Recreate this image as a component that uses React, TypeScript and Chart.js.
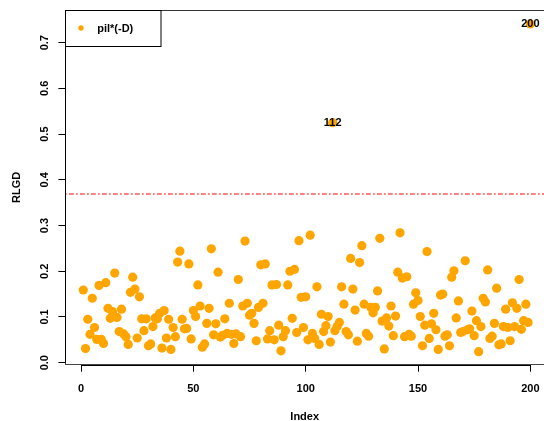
import React, { useEffect, useRef } from "react";
import { Chart, registerables } from "chart.js";

Chart.register(...registerables);

// ---- data ----
const RLGD: number[] = [
  0.159, 0.031, 0.095, 0.062, 0.141, 0.077, 0.051, 0.169, 0.051, 0.042,
  0.175, 0.119, 0.097, 0.112, 0.196, 0.099, 0.068, 0.117, 0.063, 0.057,
  0.040, 0.154, 0.187, 0.161, 0.054, 0.144, 0.096, 0.070, 0.096, 0.037,
  0.041, 0.079, 0.098, 0.096, 0.108, 0.032, 0.114, 0.054, 0.095, 0.029,
  0.077, 0.057, 0.220, 0.244, 0.095, 0.074, 0.075, 0.216, 0.052, 0.114,
  0.101, 0.170, 0.124, 0.034, 0.041, 0.086, 0.119, 0.249, 0.061, 0.085,
  0.198, 0.056, 0.060, 0.096, 0.064, 0.130, 0.062, 0.042, 0.063, 0.182,
  0.057, 0.124, 0.266, 0.130, 0.104, 0.108, 0.086, 0.048, 0.121, 0.214,
  0.130, 0.216, 0.052, 0.070, 0.170, 0.050, 0.171, 0.082, 0.026, 0.057,
  0.070, 0.170, 0.200, 0.097, 0.204, 0.066, 0.267, 0.143, 0.077, 0.144,
  0.050, 0.279, 0.064, 0.053, 0.166, 0.040, 0.106, 0.068, 0.081, 0.101,
  0.045, 0.525, 0.070, 0.079, 0.088, 0.166, 0.128, 0.068, 0.061, 0.228,
  0.161, 0.115, 0.047, 0.219, 0.256, 0.128, 0.064, 0.058, 0.121, 0.109,
  0.121, 0.157, 0.272, 0.091, 0.030, 0.098, 0.080, 0.124, 0.059, 0.102,
  0.198, 0.284, 0.185, 0.057, 0.188, 0.062, 0.058, 0.128, 0.153, 0.136,
  0.101, 0.037, 0.082, 0.243, 0.053, 0.085, 0.108, 0.072, 0.029, 0.148,
  0.150, 0.058, 0.061, 0.037, 0.187, 0.201, 0.098, 0.135, 0.066, 0.068,
  0.223, 0.072, 0.074, 0.113, 0.059, 0.092, 0.024, 0.079, 0.141, 0.133,
  0.203, 0.053, 0.058, 0.086, 0.163, 0.039, 0.041, 0.079, 0.117, 0.077,
  0.048, 0.131, 0.079, 0.119, 0.182, 0.073, 0.092, 0.128, 0.088, 0.741,
];
const INDEX: number[] = RLGD.map((_, i) => i + 1);
const X_TICKS: number[] = [0, 50, 100, 150, 200];
const Y_TICKS: number[] = [0, 0.1, 0.2, 0.3, 0.4, 0.5, 0.6, 0.7];
const THRESHOLD = 0.369;
const LABELLED: number[] = [112, 200];
const SERIES_LABEL = "pil*(-D)";
const X_TITLE = "Index";
const Y_TITLE = "RLGD";
const X_MIN = -6.96;
const X_MAX = 206.08;
const Y_MIN = -0.0044;
const Y_MAX = 0.7715;

const FONT = "'Liberation Sans', Arial, Helvetica, sans-serif";
const ORANGE = "#FFA500";

const framePlugin = {
  id: "frame",
  afterDraw(chart: any) {
    const { ctx, chartArea } = chart;
    const xs = chart.scales.x;
    const ys = chart.scales.y;
    ctx.save();
    ctx.strokeStyle = "#333";
    ctx.lineWidth = 1;
    ctx.beginPath();
    const top = Math.round(chartArea.top) + 0.5;
    ctx.moveTo(chartArea.left, top);
    ctx.lineTo(chartArea.right, top);
    ctx.stroke();
    ctx.strokeStyle = "#000";
    ctx.beginPath();
    const bot = Math.round(chartArea.bottom) + 0.5;
    ctx.moveTo(xs.getPixelForValue(X_TICKS[0]), bot);
    ctx.lineTo(xs.getPixelForValue(X_TICKS[X_TICKS.length - 1]), bot);
    const lft = Math.round(chartArea.left) + 0.5;
    ctx.moveTo(lft, ys.getPixelForValue(Y_TICKS[0]));
    ctx.lineTo(lft, ys.getPixelForValue(Y_TICKS[Y_TICKS.length - 1]));
    ctx.stroke();

    const meta = chart.getDatasetMeta(0);
    ctx.fillStyle = "#000";
    ctx.font = `bold 11px ${FONT}`;
    ctx.textAlign = "center";
    ctx.textBaseline = "middle";
    LABELLED.forEach((idx) => {
      const el = meta.data[idx - 1];
      if (el) ctx.fillText(String(idx), el.x, el.y);
    });

    const lx = chartArea.left;
    const ly = chartArea.top;
    ctx.strokeStyle = "#000";
    ctx.strokeRect(Math.round(lx) + 0.5, Math.round(ly) + 0.5, 95.5, 36);
    ctx.fillStyle = ORANGE;
    ctx.beginPath();
    ctx.arc(lx + 15.6, ly + 18, 2.7, 0, Math.PI * 2);
    ctx.fill();
    ctx.fillStyle = "#000";
    ctx.textAlign = "left";
    ctx.fillText(SERIES_LABEL, lx + 31.8, ly + 18.5);
    ctx.restore();
  },
};

export default function App() {
  const ref = useRef<HTMLCanvasElement>(null);
  useEffect(() => {
    const canvas = ref.current;
    if (!canvas) return;
    Chart.defaults.font.family = FONT;
    const chart = new Chart(canvas, {
      type: "scatter",
      data: {
        datasets: [
          {
            type: "scatter",
            label: SERIES_LABEL,
            data: INDEX.map((x, i) => ({ x, y: RLGD[i] })),
            pointRadius: 4.6,
            pointHoverRadius: 4.6,
            backgroundColor: ORANGE,
            borderColor: ORANGE,
            borderWidth: 0,
          },
          {
            type: "line",
            label: "threshold",
            data: [
              { x: X_MIN, y: THRESHOLD },
              { x: X_MAX, y: THRESHOLD },
            ],
            borderColor: "#FF0000",
            borderWidth: 1,
            borderDash: [1, 3, 4, 3],
            borderCapStyle: "round",
            pointRadius: 0,
            showLine: true,
            fill: false,
          } as any,
        ],
      },
      options: {
        animation: false,
        responsive: false,
        devicePixelRatio: 1,
        events: [],
        layout: { autoPadding: false, padding: { top: 10, right: 0, bottom: 0, left: 0 } },
        plugins: { legend: { display: false }, tooltip: { enabled: false } },
        scales: {
          x: {
            type: "linear",
            min: X_MIN,
            max: X_MAX,
            afterBuildTicks: (s: any) => {
              s.ticks = X_TICKS.map((v) => ({ value: v }));
            },
            afterFit: (s: any) => {
              s.height = 56.3;
              s.paddingLeft = 0;
              s.paddingRight = 0;
            },
            grid: {
              drawOnChartArea: false,
              drawTicks: true,
              tickLength: 7,
              color: "#000",
              lineWidth: 1,
            },
            border: { display: true, color: "#444", width: 1 },
            ticks: {
              color: "#000",
              font: { family: FONT, size: 11, weight: "bold", lineHeight: 3.05 },
              padding: 0,
              minRotation: 0,
              maxRotation: 0,
              autoSkip: false,
              callback: (v: any) => String(v),
            },
            title: {
              display: true,
              text: X_TITLE,
              color: "#000",
              font: { family: FONT, size: 11, weight: "bold", lineHeight: 0.67 },
              padding: 0,
            },
          },
          y: {
            type: "linear",
            min: Y_MIN,
            max: Y_MAX,
            afterBuildTicks: (s: any) => {
              s.ticks = Y_TICKS.map((v) => ({ value: v }));
            },
            afterFit: (s: any) => {
              s.width = 65.4;
              s.paddingTop = 0;
              s.paddingBottom = 0;
            },
            grid: {
              drawOnChartArea: false,
              drawTicks: true,
              tickLength: 7,
              color: "#000",
              lineWidth: 1,
            },
            border: { display: true, color: "#444", width: 1 },
            ticks: {
              color: "#000",
              font: { family: FONT, size: 11, weight: "bold" },
              padding: 6,
              minRotation: 90,
              maxRotation: 90,
              crossAlign: "center",
              autoSkip: false,
              callback: (v: any) => Number(v).toFixed(1),
            },
            title: {
              display: true,
              text: Y_TITLE,
              color: "#000",
              font: { family: FONT, size: 11, weight: "bold" },
              padding: { top: 10.4, bottom: 0 },
            },
          },
        },
      } as any,
      plugins: [framePlugin],
    });
    return () => chart.destroy();
  }, []);
  return (
    <div
      style={{
        position: "absolute",
        left: 0,
        top: 0,
        width: 544,
        height: 421,
        background: "#fff",
        overflow: "hidden",
      }}
    >
      <canvas
        ref={ref}
        width={544}
        height={421}
        style={{ display: "block", width: 544, height: 421 }}
      />
    </div>
  );
}
